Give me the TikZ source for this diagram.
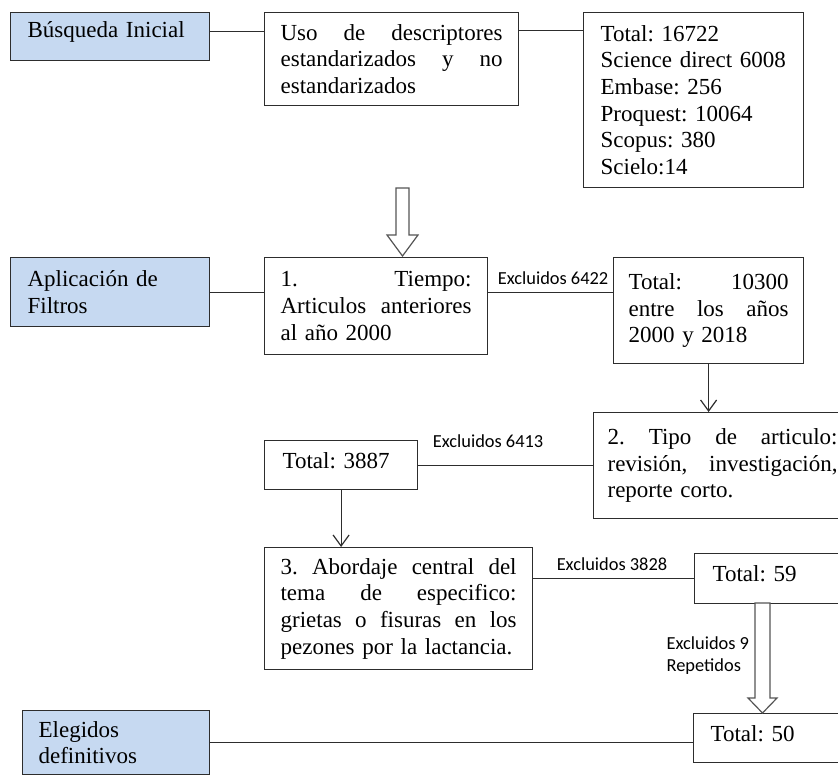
\documentclass[tikz,border=0pt]{standalone}
\usepackage{fontspec}
\setmainfont{Liberation Serif}
\newfontfamily\labelfont{Carlito}
\usetikzlibrary{arrows.meta}
\frenchspacing

\definecolor{headblue}{RGB}{198,217,241}
\definecolor{boxline}{RGB}{45,45,45}
\definecolor{arrowgray}{RGB}{85,85,85}

\begin{document}
\begin{tikzpicture}[x=1pt,y=-1pt,>={Straight Barb[length=11pt,width=16pt]},
                    line width=1.2pt,
                    main node/.style={draw=boxline,anchor=north west,inner ysep=0pt,
                      align=left,font=\fontsize{23}{26.7}\selectfont},
                    head node/.style={main node,fill=headblue},
                    top text/.style={execute at end node={\endgraf\vspace{9pt}}},
                    excl node/.style={font=\labelfont\fontsize{18.4}{22.5}\selectfont,inner sep=1pt}]
  \useasboundingbox (0,0) rectangle (838,780);
  \clip (0,0) rectangle (838,780);

  \node[head node,top text,inner xsep=17pt,text width=165pt,minimum height=48pt] (1) at (10,12) {B\'usqueda Inicial};
  \node[main node,inner xsep=16pt,text width=222pt,minimum height=93pt] (2) at (264,12)
    {Uso\hfill de\hfill descriptores\\ estandarizados\hfill y\hfill no\\ estandarizados};
  \node[main node,inner xsep=17pt,text width=186pt,minimum height=175pt] (3) at (583,12)
    {Total: 16722\\ Science direct 6008\\ Embase: 256\\ Proquest: 10064\\ Scopus: 380\\ Scielo:14};
  \node[head node,inner xsep=17pt,text width=165pt,minimum height=69pt] (4) at (10,257) {Aplicaci\'on de\\ Filtros};
  \node[main node,inner xsep=16pt,text width=191pt,minimum height=97pt] (5) at (264,257)
    {1.\hfill Tiempo:\\ Articulos\hfill anteriores\\ al a\~no 2000};
  \node[main node,inner xsep=15pt,text width=160pt,minimum height=106pt] (6) at (613,257)
    {Total:\hfill 10300\\ entre\hfill los\hfill a\~nos\\ 2000 y 2018};
  \node[main node,inner xsep=14pt,text width=230pt,minimum height=106pt] (7) at (593,412)
    {2.\hfill Tipo\hfill de\hfill articulo:\\ revisi\'on,\hfill investigaci\'on,\\ reporte corto.};
  \node[main node,top text,inner xsep=18pt,text width=117pt,minimum height=49pt] (8) at (264,440) {Total: 3887};
  \node[main node,inner xsep=16pt,text width=236pt,minimum height=122pt] (9) at (264,547)
    {3.\hfill Abordaje\hfill central\hfill del\\ tema\hfill de\hfill especifico:\\ grietas\hfill o\hfill fisuras\hfill en\hfill los\\ pezones por la lactancia.};
  \node[main node,top text,inner xsep=18pt,text width=124pt,minimum height=50pt] (10) at (694,553) {Total: 59};
  \node[main node,top text,inner xsep=17pt,text width=126pt,minimum height=49pt] (11) at (693,713) {Total: 50};
  \node[head node,inner xsep=16pt,text width=155pt,minimum height=64pt] (12) at (22,710) {Elegidos\\ definitivos};
  \node[excl node,anchor=west,align=left] (ex9) at (665,655.5) {Excluidos 9\\Repetidos};

  \path[draw=boxline]
    ([yshift=5pt]1.east) edge ([yshift=5pt]1.east -| 2.west)
    ([yshift=28.5pt]2.east) edge ([yshift=28.5pt]2.east -| 3.west)
    (4.east) edge (4.east -| 5.west)
    (4.east -| 5.east) edge node[excl node,above=6pt,pos=0.52] {Excluidos 6422} (4.east -| 6.west)
    (6.south) edge[->] (6.south |- 7.north)
    (8.east) edge node[excl node,above=16pt,pos=0.4] {Excluidos 6413} (8.east -| 7.west)
    (8.south) edge[->] (8.south |- 9.north)
    (9.east |- 10.west) edge node[excl node,above=6pt,pos=0.49] {Excluidos 3828} (10.west)
    (12.east) edge (12.east -| 11.west)
    ;

  % hollow arrows
  \draw[fill=white,draw=arrowgray] (396,188) -- (409,188) -- (409,235) -- (418,235)
    -- (402.5,256) -- (387,235) -- (396,235) -- cycle;
  \draw[fill=white,draw=arrowgray] (755,603) -- (770,603) -- (770,698) -- (777,698)
    -- (762.5,713) -- (748,698) -- (755,698) -- cycle;
\end{tikzpicture}
\end{document}
